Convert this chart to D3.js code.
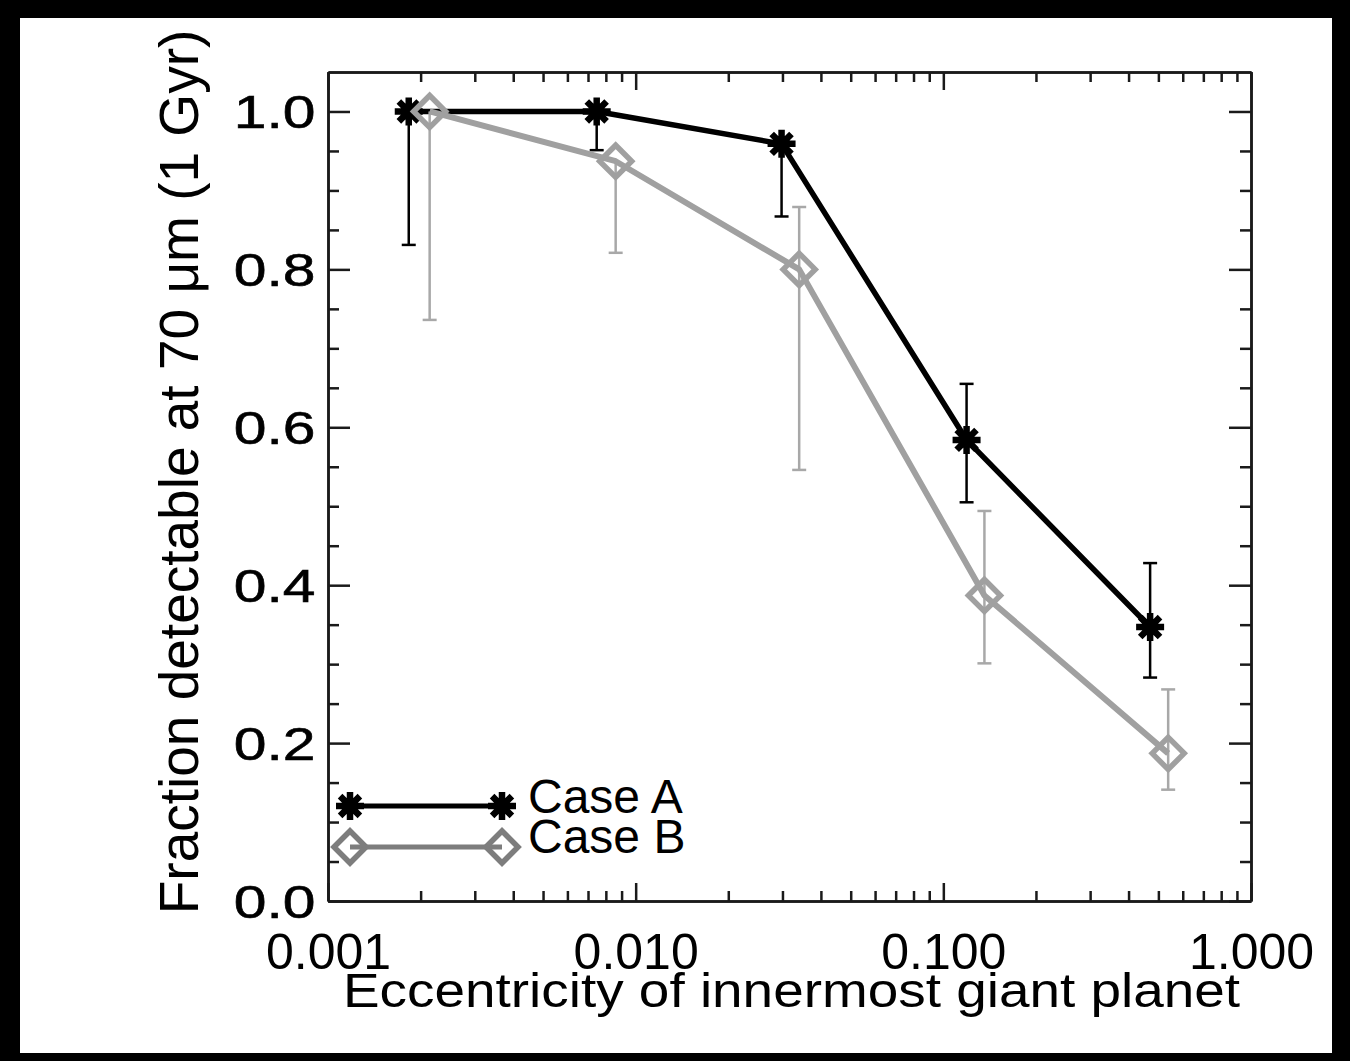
<!DOCTYPE html>
<html>
<head>
<meta charset="utf-8">
<script src="https://cdn.jsdelivr.net/npm/d3@7"></script>
<style>
  body { margin: 0; background: #000; }
  svg { display: block; }
  text { font-family: "Liberation Sans", Arial, sans-serif; fill: #000; }
</style>
</head>
<body>
<div id="main"></div>
<script>
// values
var caseAx = [0.00183, 0.00747, 0.0298, 0.119, 0.470];
var caseAy = [1.0, 1.0, 0.959, 0.584, 0.347];
var caseAlo = [0.831, 0.951, 0.867, 0.505, 0.283];
var caseAhi = [1.0, 1.0, 0.959, 0.655, 0.428];

var caseBx = [0.00214, 0.00861, 0.034, 0.136, 0.538];
var caseBy = [1.0, 0.937, 0.80, 0.387, 0.187];
var caseBlo = [0.736, 0.821, 0.546, 0.301, 0.141];
var caseBhi = [1.0, 0.937, 0.879, 0.494, 0.268];

var xMajor = [0.001, 0.01, 0.1, 1];
var yMajor = [0, 0.2, 0.4, 0.6, 0.8, 1.0];
var legendNames = ["Case A", "Case B"];

var W = 1350, H = 1061;
var plot = { left: 328, right: 1251, top: 72, bottom: 901 };

var svg = d3.select('#main')
  .append("svg")
  .attr('width', W)
  .attr('height', H);

// black frame around the page like the scan
svg.append("rect").attr("width", W).attr("height", H).attr("fill", "#000");
svg.append("rect")
  .attr("x", 20).attr("y", 18)
  .attr("width", 1312).attr("height", 1035)
  .attr("fill", "#fff");

var x = d3.scaleLog().domain([0.001, 1]).range([plot.left, plot.right]);
var y = d3.scaleLinear().domain([0, 1.05]).range([plot.bottom, plot.top]);

var xMinor = [];
[0.001, 0.01, 0.1].forEach(function (d) {
  for (var k = 2; k <= 9; k++) xMinor.push(d * k);
});
var yMinor = d3.range(0, 21).map(function (i) { return i * 0.05; })
  .filter(function (v) { return Math.abs(v * 5 - Math.round(v * 5)) > 1e-6; });

function styleAxis(g) {
  g.selectAll("path.domain").attr("stroke", "#1a1a1a").attr("stroke-width", 2.5);
  g.selectAll(".tick line").attr("stroke", "#1a1a1a").attr("stroke-width", 2.5);
}

// bottom axis
var bottomAxis = svg.append("g").attr("transform", "translate(0," + plot.bottom + ")");
bottomAxis.append("g")
  .call(d3.axisBottom(x).tickValues(xMinor).tickSize(-10).tickSizeOuter(0).tickFormat(""))
  .call(styleAxis);
bottomAxis.append("g")
  .call(d3.axisBottom(x).tickValues(xMajor).tickSize(-18).tickSizeOuter(0)
    .tickPadding(32).tickFormat(d3.format(".3f")))
  .call(styleAxis)
  .selectAll("text")
  .style("font-size", "50px");

// top axis
var topAxis = svg.append("g").attr("transform", "translate(0," + plot.top + ")");
topAxis.append("g")
  .call(d3.axisTop(x).tickValues(xMinor).tickSize(-10).tickSizeOuter(0).tickFormat(""))
  .call(styleAxis);
topAxis.append("g")
  .call(d3.axisTop(x).tickValues(xMajor).tickSize(-18).tickSizeOuter(0).tickFormat(""))
  .call(styleAxis);

// left axis
var leftAxis = svg.append("g").attr("transform", "translate(" + plot.left + ",0)");
leftAxis.append("g")
  .call(d3.axisLeft(y).tickValues(yMinor).tickSize(-11).tickSizeOuter(0).tickFormat(""))
  .call(styleAxis);
leftAxis.append("g")
  .call(d3.axisLeft(y).tickValues(yMajor).tickSize(-22).tickSizeOuter(0)
    .tickPadding(10).tickFormat(d3.format(".1f")))
  .call(styleAxis)
  .selectAll("text")
  .style("font-size", "47px")
  .style("stroke", "#000")
  .style("stroke-width", "0.6px")
  .attr("dy", "0.35em")
  .attr("transform", "scale(1.25,1)");

// right axis
var rightAxis = svg.append("g").attr("transform", "translate(" + plot.right + ",0)");
rightAxis.append("g")
  .call(d3.axisRight(y).tickValues(yMinor).tickSize(-11).tickSizeOuter(0).tickFormat(""))
  .call(styleAxis);
rightAxis.append("g")
  .call(d3.axisRight(y).tickValues(yMajor).tickSize(-22).tickSizeOuter(0).tickFormat(""))
  .call(styleAxis);

// axis titles
svg.append("text")
  .attr("x", 343)
  .attr("y", 1007)
  .attr("textLength", 897)
  .attr("lengthAdjust", "spacingAndGlyphs")
  .style("font-size", "48px")
  .text("Eccentricity of innermost giant planet");

svg.append("text")
  .attr("transform", "translate(198," + 472 + ")rotate(-90)")
  .style("text-anchor", "middle")
  .style("font-size", "55px")
  .text("Fraction detectable at 70 \u03bcm (1 Gyr)");

// markers
function asterisk(g, cx, cy, color) {
  var r = 14;
  var path = "";
  for (var a = 0; a < 180; a += 45) {
    var rad = a * Math.PI / 180;
    path += "M" + (cx - r * Math.cos(rad)) + "," + (cy - r * Math.sin(rad)) +
      "L" + (cx + r * Math.cos(rad)) + "," + (cy + r * Math.sin(rad));
  }
  g.append("path").attr("d", path)
    .attr("stroke", color).attr("stroke-width", 6.5).attr("fill", "none");
  g.append("circle").attr("cx", cx).attr("cy", cy).attr("r", 7).attr("fill", color);
}

function diamond(g, cx, cy, color) {
  var r = 16;
  g.append("path")
    .attr("d", "M" + (cx - r) + "," + cy + "L" + cx + "," + (cy - r) +
      "L" + (cx + r) + "," + cy + "L" + cx + "," + (cy + r) + "Z")
    .attr("stroke", color).attr("stroke-width", 5.5).attr("fill", "none")
    .attr("stroke-linejoin", "miter");
}

var line = d3.line().x(function (d) { return x(d[0]); }).y(function (d) { return y(d[1]); });

function drawSeries(xs, ys, lo, hi, lineColor, barColor, lineWidth, marker) {
  var g = svg.append("g");
  var pts = xs.map(function (v, i) { return [v, ys[i]]; });

  // error bars
  xs.forEach(function (v, i) {
    var px = x(v);
    g.append("line")
      .attr("x1", px).attr("x2", px)
      .attr("y1", y(lo[i])).attr("y2", y(hi[i]))
      .attr("stroke", barColor).attr("stroke-width", 2.5);
    g.append("line")
      .attr("x1", px - 7).attr("x2", px + 7)
      .attr("y1", y(lo[i])).attr("y2", y(lo[i]))
      .attr("stroke", barColor).attr("stroke-width", 2.5);
    if (hi[i] > ys[i]) {
      g.append("line")
        .attr("x1", px - 7).attr("x2", px + 7)
        .attr("y1", y(hi[i])).attr("y2", y(hi[i]))
        .attr("stroke", barColor).attr("stroke-width", 2.5);
    }
  });

  g.append("path")
    .datum(pts)
    .attr("d", line)
    .attr("fill", "none")
    .attr("stroke", lineColor)
    .attr("stroke-width", lineWidth)
    .attr("stroke-linejoin", "round");

  pts.forEach(function (p) { marker(g, x(p[0]), y(p[1]), lineColor); });
}

drawSeries(caseAx, caseAy, caseAlo, caseAhi, "#000", "#000", 5.5, asterisk);
drawSeries(caseBx, caseBy, caseBlo, caseBhi, "#a0a0a0", "#a8a8a8", 6, diamond);

// legend
var legend = svg.append("g");
var legendRows = [
  { name: legendNames[0], color: "#000", marker: asterisk, y: 806, w: 5 },
  { name: legendNames[1], color: "#7d7d7d", marker: diamond, y: 847, w: 5 }
];
legendRows.forEach(function (r, i) {
  legend.append("line")
    .attr("x1", 350).attr("x2", 502)
    .attr("y1", r.y).attr("y2", r.y)
    .attr("stroke", r.color).attr("stroke-width", r.w);
  r.marker(legend, 350, r.y, r.color);
  r.marker(legend, 502, r.y, r.color);
  legend.append("text")
    .attr("x", 528)
    .attr("y", i === 0 ? 813 : 853)
    .style("font-size", "48px")
    .text(r.name);
});
</script>
</body>
</html>
